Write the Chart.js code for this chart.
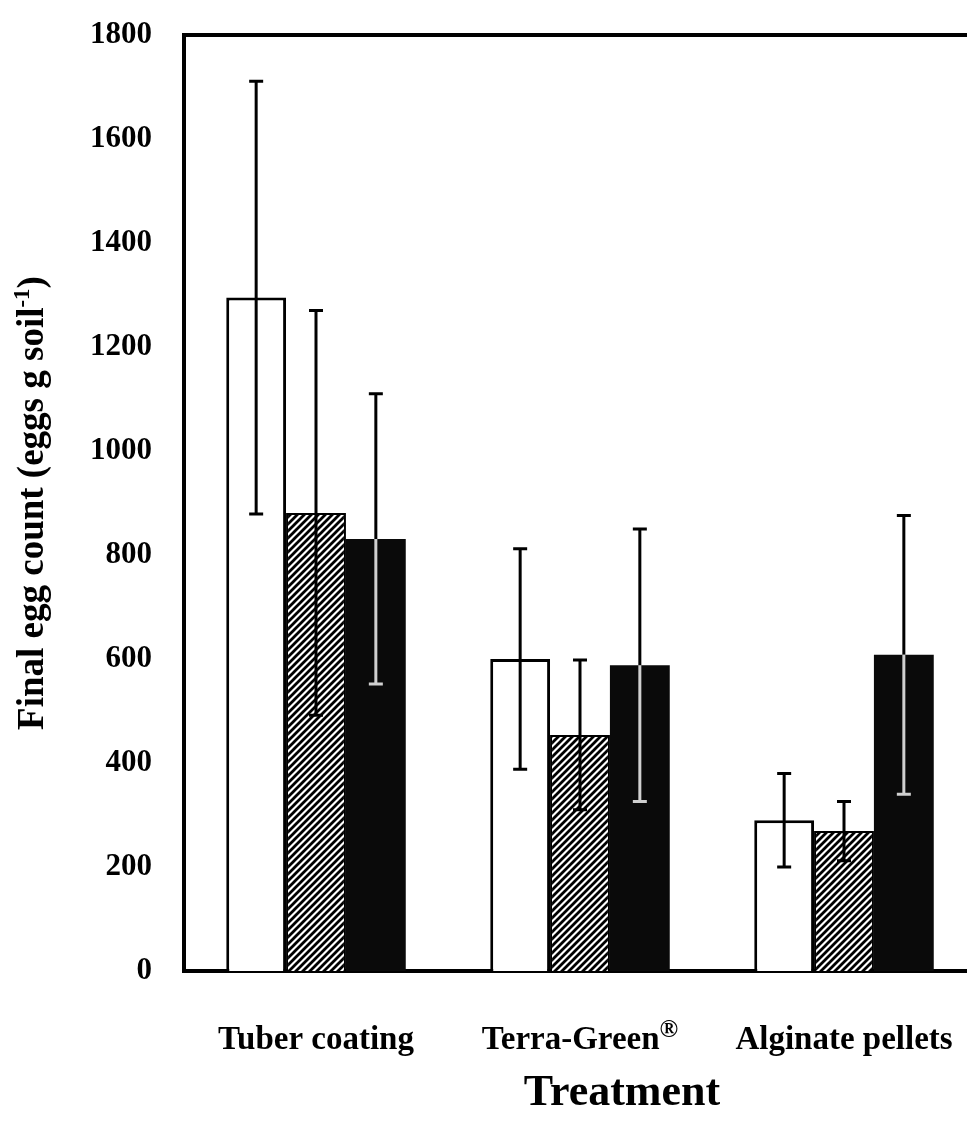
<!DOCTYPE html>
<html>
<head>
<meta charset="utf-8">
<script src="https://cdn.jsdelivr.net/npm/chart.js@4/dist/chart.umd.min.js"></script>
<style>
  html, body { margin: 0; padding: 0; background: #fff; overflow: hidden; }
  #wrap { width: 990px; height: 1124px; }
</style>
</head>
<body>
<div id="wrap"><canvas id="c" width="990" height="1124"></canvas></div>
<script>
// ---- data ----
const categories = ['Tuber coating', 'Terra-Green®', 'Alginate pellets'];
const seriesNames = ['Open bars', 'Hatched bars', 'Solid bars'];
const openValues = [1295, 600, 290];
const openErrors = [416, 212, 90];
const hatchedValues = [881, 454, 269];
const hatchedErrors = [389, 144, 57];
const solidValues = [831, 588, 608];
const solidErrors = [279, 262, 268];
const yTicks = [0, 200, 400, 600, 800, 1000, 1200, 1400, 1600, 1800];
const yTitleMain = 'Final egg count (eggs g soil';
const yTitleSup = '-1';
const yTitleEnd = ')';
const xTitle = 'Treatment';

const SERIF = '"Liberation Serif", "Times New Roman", serif';

// hatch pattern "////"
function makeHatch() {
  const s = 7;
  const pc = document.createElement('canvas');
  pc.width = s; pc.height = s;
  const p = pc.getContext('2d');
  p.fillStyle = '#fff';
  p.fillRect(0, 0, s, s);
  p.strokeStyle = '#000';
  p.lineWidth = 2.8;
  p.beginPath();
  p.moveTo(-1, s + 1); p.lineTo(s + 1, -1);
  p.moveTo(-2, 2); p.lineTo(2, -2);
  p.moveTo(s - 2, s + 2); p.lineTo(s + 2, s - 2);
  p.stroke();
  return document.getElementById('c').getContext('2d').createPattern(pc, 'repeat');
}

const errorSets = [openErrors, hatchedErrors, solidErrors];

const errorBarPlugin = {
  id: 'errorBars',
  afterDatasetsDraw(chart) {
    const ctx = chart.ctx;
    const ys = chart.scales.y;
    chart.data.datasets.forEach((ds, di) => {
      const meta = chart.getDatasetMeta(di);
      meta.data.forEach((bar, i) => {
        const v = ds.data[i];
        const e = errorSets[di][i];
        const x = bar.x;
        const yTop = ys.getPixelForValue(v + e);
        const yBot = ys.getPixelForValue(v - e);
        const yVal = ys.getPixelForValue(v);
        const cap = 7;
        ctx.save();
        ctx.lineWidth = 3;
        ctx.lineCap = 'butt';
        if (di === 2) {
          ctx.strokeStyle = '#000';
          ctx.beginPath();
          ctx.moveTo(x, yTop); ctx.lineTo(x, yVal);
          ctx.moveTo(x - cap, yTop); ctx.lineTo(x + cap, yTop);
          ctx.stroke();
          ctx.strokeStyle = '#d0d0d0';
          ctx.beginPath();
          ctx.moveTo(x, yVal); ctx.lineTo(x, yBot);
          ctx.moveTo(x - cap, yBot); ctx.lineTo(x + cap, yBot);
          ctx.stroke();
        } else {
          ctx.strokeStyle = '#000';
          ctx.beginPath();
          ctx.moveTo(x, yTop); ctx.lineTo(x, yBot);
          ctx.moveTo(x - cap, yTop); ctx.lineTo(x + cap, yTop);
          ctx.moveTo(x - cap, yBot); ctx.lineTo(x + cap, yBot);
          ctx.stroke();
        }
        ctx.restore();
      });
    });
  }
};

function drawWithSup(ctx, main, sup, end, x, y, size, supSize, raise) {
  ctx.font = 'bold ' + size + 'px ' + SERIF;
  const w1 = ctx.measureText(main).width;
  const w3 = ctx.measureText(end).width;
  ctx.font = 'bold ' + supSize + 'px ' + SERIF;
  const w2 = ctx.measureText(sup).width;
  const total = w1 + w2 + w3;
  let sx = x - total / 2;
  ctx.textAlign = 'left';
  ctx.textBaseline = 'alphabetic';
  ctx.font = 'bold ' + size + 'px ' + SERIF;
  ctx.fillText(main, sx, y);
  sx += w1;
  ctx.font = 'bold ' + supSize + 'px ' + SERIF;
  ctx.fillText(sup, sx, y - raise);
  sx += w2;
  ctx.font = 'bold ' + size + 'px ' + SERIF;
  ctx.fillText(end, sx, y);
}

const labelPlugin = {
  id: 'labels',
  afterDraw(chart) {
    const ctx = chart.ctx;
    const ca = chart.chartArea;
    const xs = chart.scales.x;
    ctx.save();
    ctx.fillStyle = '#000';
    ctx.strokeStyle = '#000';
    ctx.lineWidth = 4;
    ctx.beginPath();
    ctx.moveTo(ca.left - 2, ca.top);
    ctx.lineTo(chart.width, ca.top);
    ctx.stroke();
    categories.forEach((lab, i) => {
      const x = xs.getPixelForValue(i);
      const y = ca.bottom + 78;
      if (lab.endsWith('®')) {
        drawWithSup(ctx, lab.slice(0, -1), '®', '', x, y, 33, 25, 12);
      } else {
        ctx.font = 'bold 33px ' + SERIF;
        ctx.textAlign = 'center';
        ctx.textBaseline = 'alphabetic';
        ctx.fillText(lab, x, y);
      }
    });
    ctx.font = 'bold 44px ' + SERIF;
    ctx.textAlign = 'center';
    ctx.textBaseline = 'alphabetic';
    ctx.fillText(xTitle, (ca.left + ca.right) / 2 + 42, ca.bottom + 134);
    ctx.save();
    ctx.translate(43, (ca.top + ca.bottom) / 2);
    ctx.rotate(-Math.PI / 2);
    drawWithSup(ctx, yTitleMain, yTitleSup, yTitleEnd, 0, 0, 37, 23, 14);
    ctx.restore();
    ctx.restore();
  }
};

const hatch = makeHatch();

new Chart(document.getElementById('c'), {
  type: 'bar',
  data: {
    labels: categories,
    datasets: [
      { label: seriesNames[0], data: openValues, backgroundColor: '#fff', borderColor: '#000', borderWidth: 3, borderSkipped: 'bottom' },
      { label: seriesNames[1], data: hatchedValues, backgroundColor: hatch, borderColor: '#000', borderWidth: 2, borderSkipped: 'bottom' },
      { label: seriesNames[2], data: solidValues, backgroundColor: '#0a0a0a', borderColor: '#0a0a0a', borderWidth: 0 }
    ]
  },
  options: {
    responsive: false,
    animation: false,
    devicePixelRatio: 1,
    layout: { padding: { top: 35, right: 14, left: 0, bottom: 0 } },
    datasets: { bar: { categoryPercentage: 0.68, barPercentage: 1.0 } },
    plugins: { legend: { display: false }, tooltip: { enabled: false }, title: { display: false } },
    scales: {
      x: {
        grid: { display: false, drawTicks: false },
        border: { display: true, color: '#000', width: 4 },
        ticks: { display: false },
        afterFit(scale) { scale.height = 1124 - 971; scale.paddingLeft = 0; scale.paddingRight = 0; }
      },
      y: {
        min: 0, max: 1800,
        afterBuildTicks(scale) { scale.ticks = yTicks.map(v => ({ value: v })); },
        grid: { display: false, drawTicks: false },
        border: { display: true, color: '#000', width: 4 },
        ticks: {
          color: '#000',
          padding: 32,
          font: { family: SERIF, size: 31, weight: 'bold' },
          callback: (v) => String(v)
        },
        afterFit(scale) { scale.width = 184; scale.paddingTop = 0; scale.paddingBottom = 0; }
      }
    }
  },
  plugins: [errorBarPlugin, labelPlugin]
});
</script>
</body>
</html>
